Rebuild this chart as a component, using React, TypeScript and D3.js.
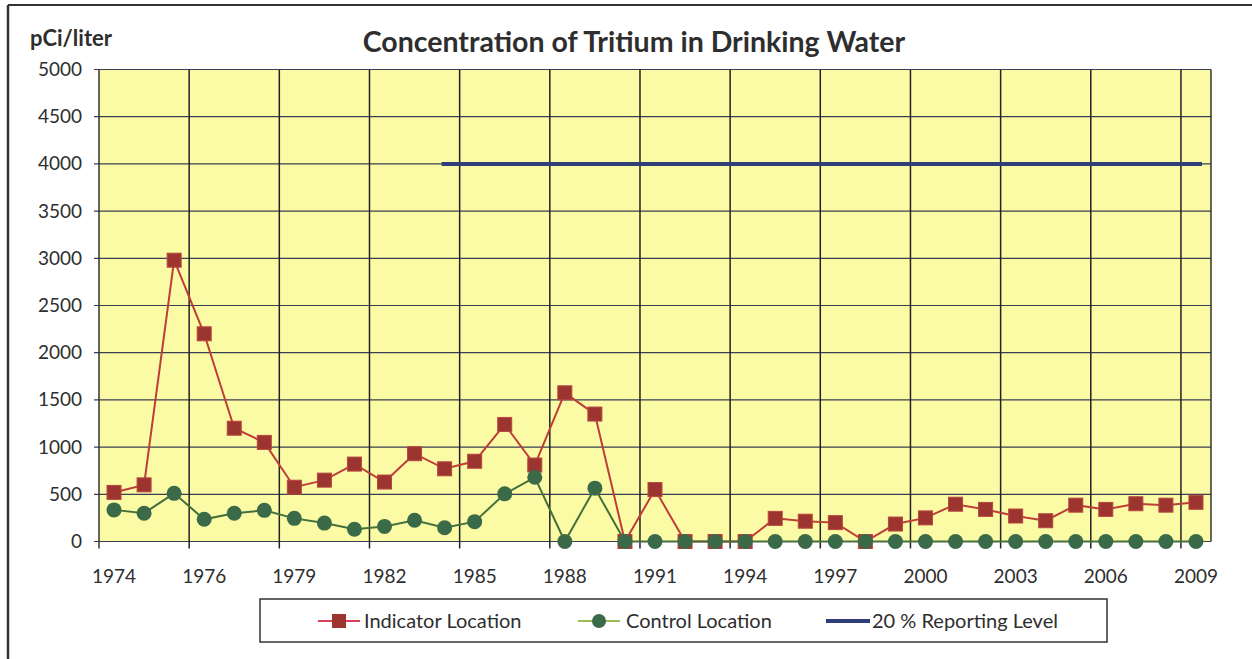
import React from "react";
import * as d3 from "d3";

// sampling periods (1975 was sampled twice)
const years = [
  "1974", "1975", "1975", "1976", "1977", "1978", "1979", "1980", "1981",
  "1982", "1983", "1984", "1985", "1986", "1987", "1988", "1989", "1990",
  "1991", "1992", "1993", "1994", "1995", "1996", "1997", "1998", "1999",
  "2000", "2001", "2002", "2003", "2004", "2005", "2006", "2007", "2008",
  "2009",
];

const indicator = [
  520, 600, 2980, 2200, 1200, 1050, 575, 650, 820, 630, 930, 770, 850, 1240,
  810, 1575, 1350, 0, 550, 0, 0, 0, 245, 215, 200, 0, 185, 250, 395, 340, 270,
  220, 385, 340, 400, 385, 415,
];

const control = [
  335, 300, 510, 235, 300, 330, 245, 195, 130, 160, 225, 145, 210, 505, 680, 0,
  565, 0, 0, 0, 0, 0, 0, 0, 0, 0, 0, 0, 0, 0, 0, 0, 0, 0, 0, 0, 0,
];

// 20 % reporting level, drawn from 1984 onward
const reportingLevel = 4000;
const reportingStart = 11;

const yTicks = [0, 500, 1000, 1500, 2000, 2500, 3000, 3500, 4000, 4500, 5000];

const FONT = "Lato, 'Open Sans', sans-serif";

export default function App() {
  const left = 99;
  const right = 1211;
  const top = 69.5;
  const bottom = 541.5;

  const idx = d3.range(years.length);
  const x = d3.scaleBand<number>().domain(idx).range([left, right]);
  const cx = (i: number) => (x(i) as number) + x.bandwidth() / 2;
  const y = d3.scaleLinear().domain([0, 5000]).range([bottom, top]);

  const line = d3
    .line<number>()
    .x((_, i) => cx(i))
    .y((d) => y(d));

  const boundaries = idx.filter((i) => i % 3 === 0 && i > 0).map((i) => x(i) as number);

  const redLine = "#bf3d38";
  const redFill = "#9c3530";
  const greenLine = "#45703c";
  const greenFill = "#3a6a47";
  const blue = "#2f3d78";
  const ink = "#2e2e2e";

  return (
    <div style={{ position: "absolute", left: 0, top: 0 }}>
      <svg width={1252} height={659} style={{ display: "block", background: "#fff" }}>
        {/* outer chart frame */}
        <line x1={8} y1={5} x2={1252} y2={5} stroke="#333" strokeWidth={2} />
        <line x1={8} y1={5} x2={8} y2={659} stroke="#333" strokeWidth={2.5} />

        <text x={30} y={46} fontFamily={FONT} fontWeight={700} fontSize={22} fill={ink}>
          pCi/liter
        </text>
        <text
          x={634}
          y={52}
          textAnchor="middle"
          fontFamily={FONT}
          fontWeight={700}
          fontSize={28.5}
          fill={ink}
        >
          Concentration of Tritium in Drinking Water
        </text>

        {/* plot area */}
        <rect x={left} y={top} width={right - left} height={bottom - top} fill="#fbfba6" />

        {yTicks.map((t) => (
          <g key={t}>
            <line x1={left - 5} x2={right} y1={y(t)} y2={y(t)} stroke="#3a3e52" strokeWidth={1.2} />
            <text
              x={82}
              y={y(t) + 6.5}
              textAnchor="end"
              fontFamily={FONT}
              fontSize={19}
              fill={ink}
            >
              {t}
            </text>
          </g>
        ))}

        {boundaries.map((bx, i) => (
          <line key={i} x1={bx} x2={bx} y1={top} y2={bottom + 7} stroke="#222" strokeWidth={1.5} />
        ))}
        <line x1={left} x2={left} y1={top} y2={bottom + 7} stroke="#333" strokeWidth={1.5} />
        <line x1={right} x2={right} y1={top} y2={bottom} stroke="#333" strokeWidth={1.5} />

        {idx
          .filter((i) => i % 3 === 0)
          .map((i) => (
            <text
              key={i}
              x={cx(i)}
              y={583}
              textAnchor="middle"
              fontFamily={FONT}
              fontSize={19}
              fill={ink}
            >
              {years[i]}
            </text>
          ))}

        {/* reporting level */}
        <line
          x1={cx(reportingStart) - 3}
          x2={cx(years.length - 1) + 6}
          y1={y(reportingLevel)}
          y2={y(reportingLevel)}
          stroke={blue}
          strokeWidth={4}
        />

        {/* indicator location */}
        <path d={line(indicator) ?? ""} fill="none" stroke={redLine} strokeWidth={2} />
        {indicator.map((d, i) => (
          <rect
            key={i}
            x={cx(i) - 7}
            y={y(d) - 7}
            width={14}
            height={14}
            fill={redFill}
            stroke="#b8463f"
            strokeWidth={1}
          />
        ))}

        {/* control location */}
        <path d={line(control) ?? ""} fill="none" stroke={greenLine} strokeWidth={2} />
        {control.map((d, i) => (
          <circle key={i} cx={cx(i)} cy={y(d)} r={7.5} fill={greenFill} />
        ))}

        {/* legend */}
        <rect x={260} y={599} width={847} height={43} fill="#fff" stroke="#333" strokeWidth={1.5} />
        <g fontFamily={FONT} fontSize={20} fill={ink}>
          <line x1={318} x2={360} y1={621} y2={621} stroke="#d9405a" strokeWidth={2} />
          <rect x={332} y={614} width={14} height={14} fill={redFill} />
          <text x={364} y={628}>Indicator Location</text>

          <line x1={578} x2={620} y1={621} y2={621} stroke="#9bbb59" strokeWidth={2} />
          <circle cx={599} cy={621} r={7} fill={greenFill} />
          <text x={626} y={628}>Control Location</text>

          <line x1={826} x2={870} y1={621} y2={621} stroke={blue} strokeWidth={4} />
          <text x={872} y={628}>20 % Reporting Level</text>
        </g>
      </svg>
    </div>
  );
}
